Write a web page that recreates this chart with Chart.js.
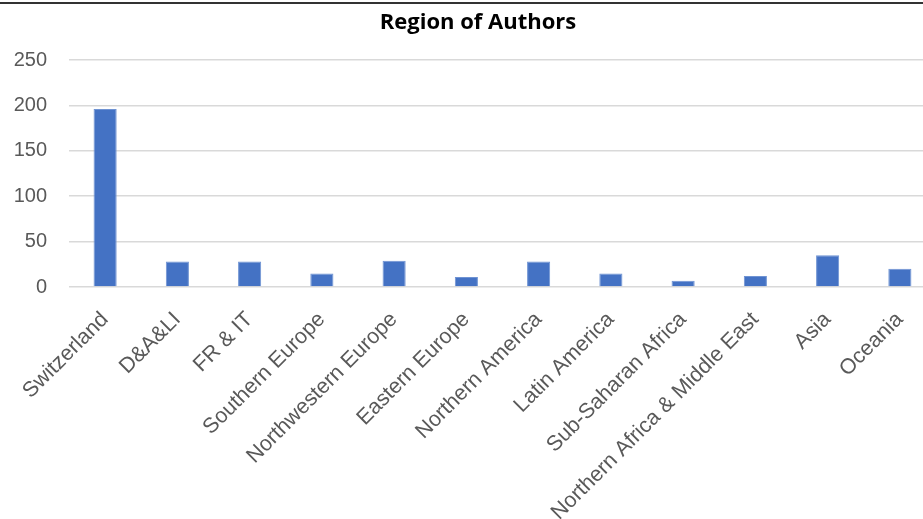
<!DOCTYPE html>
<html>
<head>
<meta charset="utf-8">
<script src="https://cdn.jsdelivr.net/npm/chart.js@4/dist/chart.umd.min.js"></script>
<style>
  html, body { margin: 0; padding: 0; background: #fff; overflow: hidden; }
  #frame { position: relative; width: 923px; height: 519px; overflow: hidden; }
  #topline { position: absolute; left: 0; top: 2px; width: 923px; height: 2px; background: #333; z-index: 2; }
  #wrap { position: absolute; left: 0; top: 0; width: 960px; height: 519px; }
</style>
</head>
<body>
<div id="frame">
  <div id="topline"></div>
  <div id="wrap"><canvas id="chart" width="960" height="519"></canvas></div>
</div>
<script>
// --- DATA ---
const regions = ['Switzerland', 'D&A&LI', 'FR & IT', 'Southern Europe', 'Northwestern Europe', 'Eastern Europe',
  'Northern America', 'Latin America', 'Sub-Saharan Africa', 'Northern Africa & Middle East', 'Asia', 'Oceania'];
const authors = [196, 28, 28, 15, 29, 11, 28, 15, 7, 12, 35, 20];
const yTicks = [0, 50, 100, 150, 200, 250];

const axisGrey = '#595959';
const fontFamily = '"Liberation Sans", Arial, sans-serif';

new Chart(document.getElementById('chart').getContext('2d'), {
  type: 'bar',
  data: {
    labels: regions,
    datasets: [{
      label: 'Region of Authors',
      data: authors,
      backgroundColor: '#4472C4',
      borderColor: '#6f93d3',
      borderWidth: 1,
      categoryPercentage: 1,
      barPercentage: 0.32
    }]
  },
  options: {
    responsive: false,
    animation: false,
    layout: { padding: { left: 0, right: 4, top: 0, bottom: 0 } },
    plugins: {
      legend: { display: false },
      tooltip: { enabled: false },
      title: {
        display: true,
        text: 'Region of Authors',
        color: '#000',
        font: { family: '"Open Sans", "Noto Sans", sans-serif', size: 22, weight: 'bold', lineHeight: 1.2 },
        padding: { top: 10, bottom: 23.6 }
      }
    },
    scales: {
      x: {
        grid: { display: false },
        border: { display: false },
        ticks: {
          color: axisGrey,
          font: { family: fontFamily, size: 21.5 },
          minRotation: 45,
          maxRotation: 45,
          autoSkip: false,
          padding: 12
        },
        afterFit: (s) => { s.height = 232; }
      },
      y: {
        min: 0,
        max: 250,
        afterBuildTicks: (s) => { s.ticks = yTicks.map(v => ({ value: v })); },
        grid: { color: '#d9d9d9', lineWidth: 1.5, drawTicks: false },
        border: { display: false },
        ticks: { color: axisGrey, font: { family: fontFamily, size: 20 }, padding: 22 },
        afterFit: (s) => { s.width = 69; }
      },
      // empty spacer on the right so the title centres like the original
      yRight: {
        position: 'right',
        grid: { display: false },
        border: { display: false },
        ticks: { display: false },
        afterFit: (s) => { s.width = 20; }
      }
    }
  }
});
</script>
</body>
</html>
